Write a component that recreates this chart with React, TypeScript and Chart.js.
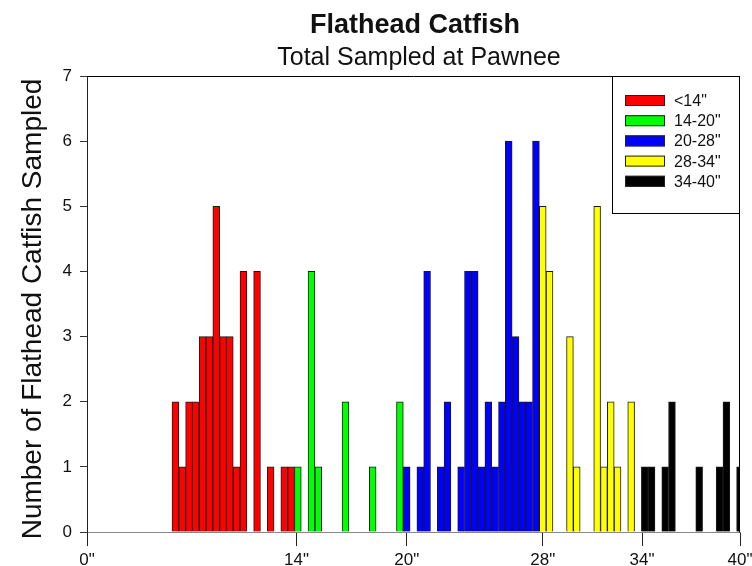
import React, { useEffect, useRef } from "react";
import { Chart, registerables } from "chart.js";

Chart.register(...registerables);

// ---- Data (x = length bin index along the axis, y = fish count) ----
const RED_LABEL = '<14"';
const RED_BINS = [13, 14, 15, 16, 17, 18, 19, 20, 21, 22, 23, 25, 27, 29, 30];
const RED_COUNTS = [2, 1, 2, 2, 3, 3, 5, 3, 3, 1, 4, 4, 1, 1, 1];

const GREEN_LABEL = '14-20"';
const GREEN_BINS = [31, 33, 34, 38, 42, 46];
const GREEN_COUNTS = [1, 4, 1, 2, 1, 2];

const BLUE_LABEL = '20-28"';
const BLUE_BINS = [47, 49, 50, 52, 53, 55, 56, 57, 58, 59, 60, 61, 62, 63, 64, 65, 66];
const BLUE_COUNTS = [1, 1, 4, 1, 2, 1, 4, 4, 1, 2, 1, 2, 6, 3, 2, 2, 6];

const YELLOW_LABEL = '28-34"';
const YELLOW_BINS = [67, 68, 71, 72, 75, 76, 77, 78, 80];
const YELLOW_COUNTS = [5, 4, 3, 1, 5, 1, 2, 1, 2];

const BLACK_LABEL = '34-40"';
const BLACK_BINS = [82, 83, 85, 86, 90, 93, 94, 96];
const BLACK_COUNTS = [1, 1, 1, 2, 1, 1, 2, 1];

const X_TICK_POS = [0, 30.8, 47, 67, 81.6, 96];
const X_TICK_LABELS = ['0"', '14"', '20"', '28"', '34"', '40"'];

const TITLE = "Flathead Catfish";
const SUBTITLE = "Total Sampled at Pawnee";
const Y_TITLE = "Number of Flathead Catfish Sampled";

const FONT = "'Liberation Sans', Arial, sans-serif";
const TEXT = "#111111";

const SERIES = [
  { label: RED_LABEL, bins: RED_BINS, counts: RED_COUNTS, color: "#FF0000" },
  { label: GREEN_LABEL, bins: GREEN_BINS, counts: GREEN_COUNTS, color: "#00FF00" },
  { label: BLUE_LABEL, bins: BLUE_BINS, counts: BLUE_COUNTS, color: "#0000FF" },
  { label: YELLOW_LABEL, bins: YELLOW_BINS, counts: YELLOW_COUNTS, color: "#FFFF00" },
  { label: BLACK_LABEL, bins: BLACK_BINS, counts: BLACK_COUNTS, color: "#000000" },
];

const decorPlugin = {
  id: "decor",
  afterDraw(chart: any) {
    const ctx = chart.ctx as CanvasRenderingContext2D;
    const a = chart.chartArea;
    ctx.save();
    // frame: top & right
    ctx.strokeStyle = "#000";
    ctx.lineWidth = 1;
    ctx.beginPath();
    ctx.moveTo(Math.round(a.left) + 0.5, Math.round(a.top) + 0.5);
    ctx.lineTo(Math.round(a.right) - 0.5, Math.round(a.top) + 0.5);
    ctx.lineTo(Math.round(a.right) - 0.5, Math.round(a.bottom) + 0.5);
    ctx.stroke();

    // titles
    ctx.fillStyle = TEXT;
    ctx.textAlign = "center";
    ctx.textBaseline = "alphabetic";
    ctx.font = `bold 27px ${FONT}`;
    ctx.fillText(TITLE, 415, 33);
    ctx.font = `25px ${FONT}`;
    ctx.fillText(SUBTITLE, 419, 65);

    // y title
    ctx.save();
    ctx.translate(40.5, 309);
    ctx.rotate(-Math.PI / 2);
    ctx.font = `28px ${FONT}`;
    ctx.textAlign = "center";
    ctx.textBaseline = "alphabetic";
    ctx.fillText(Y_TITLE, 0, 0);
    ctx.restore();

    // legend box
    const bx = 612.5, by = Math.round(a.top) + 0.5, bw = Math.round(a.right) - 0.5 - 612.5, bh = 137;
    ctx.fillStyle = "#fff";
    ctx.fillRect(bx, by, bw, bh);
    ctx.strokeStyle = "#000";
    ctx.strokeRect(bx, by, bw, bh);
    chart.data.datasets.forEach((ds: any, i: number) => {
      const cy = 100.5 + i * 20.2;
      ctx.fillStyle = ds.backgroundColor;
      ctx.fillRect(625, cy - 5.5, 40, 11);
      ctx.strokeStyle = "#222";
      ctx.strokeRect(625.5, cy - 5, 39, 10);
      ctx.fillStyle = TEXT;
      ctx.font = `16px ${FONT}`;
      ctx.textAlign = "left";
      ctx.textBaseline = "middle";
      ctx.fillText(ds.label, 674, cy + 1);
    });
    ctx.restore();
  },
};

export default function App() {
  const ref = useRef<HTMLCanvasElement | null>(null);
  useEffect(() => {
    if (!ref.current) return;
    const chart = new Chart(ref.current, {
      type: "bar",
      data: {
        datasets: SERIES.map((s) => ({
          label: s.label,
          data: s.bins.map((b, i) => ({ x: b, y: s.counts[i] })),
          backgroundColor: s.color,
          borderColor: "#1a1a1a",
          borderWidth: 1,
          grouped: false,
          barPercentage: 1,
          categoryPercentage: 1,
        })) as any,
      },
      options: {
        animation: false,
        responsive: false,
        devicePixelRatio: 1,
        layout: { padding: { left: 0, right: 12, top: 76, bottom: 0 } },
        plugins: {
          legend: { display: false },
          title: { display: false },
          tooltip: { enabled: false },
        },
        scales: {
          x: {
            type: "linear",
            min: 0,
            max: 96,
            offset: false,
            afterBuildTicks: (s: any) => {
              s.ticks = X_TICK_POS.map((v) => ({ value: v }));
            },
            afterFit: (s: any) => {
              s.height = 34;
              s.paddingLeft = 0;
              s.paddingRight = 0;
            },
            ticks: {
              autoSkip: false,
              maxRotation: 0,
              minRotation: 0,
              padding: 4,
              color: TEXT,
              font: { family: FONT, size: 17 },
              callback: (_v: any, i: number) => X_TICK_LABELS[i],
            },
            grid: {
              offset: false,
              drawOnChartArea: false,
              drawTicks: true,
              tickLength: 14,
              color: "#222",
            },
            border: { display: true, color: "#888", width: 1 },
          },
          y: {
            min: 0,
            max: 7,
            afterFit: (s: any) => {
              s.width = 87;
              s.paddingTop = 0;
              s.paddingBottom = 0;
            },
            ticks: {
              stepSize: 1,
              padding: 8,
              color: TEXT,
              font: { family: FONT, size: 17 },
            },
            grid: {
              offset: false,
              drawOnChartArea: false,
              drawTicks: true,
              tickLength: 7,
              color: "#333",
            },
            border: { display: true, color: "#222", width: 1 },
          },
        },
      } as any,
      plugins: [decorPlugin],
    });
    return () => chart.destroy();
  }, []);
  return (
    <div style={{ position: "fixed", left: 0, top: 0, width: 752, height: 566, background: "#fff" }}>
      <canvas ref={ref} width={752} height={566} style={{ display: "block" }} />
    </div>
  );
}
